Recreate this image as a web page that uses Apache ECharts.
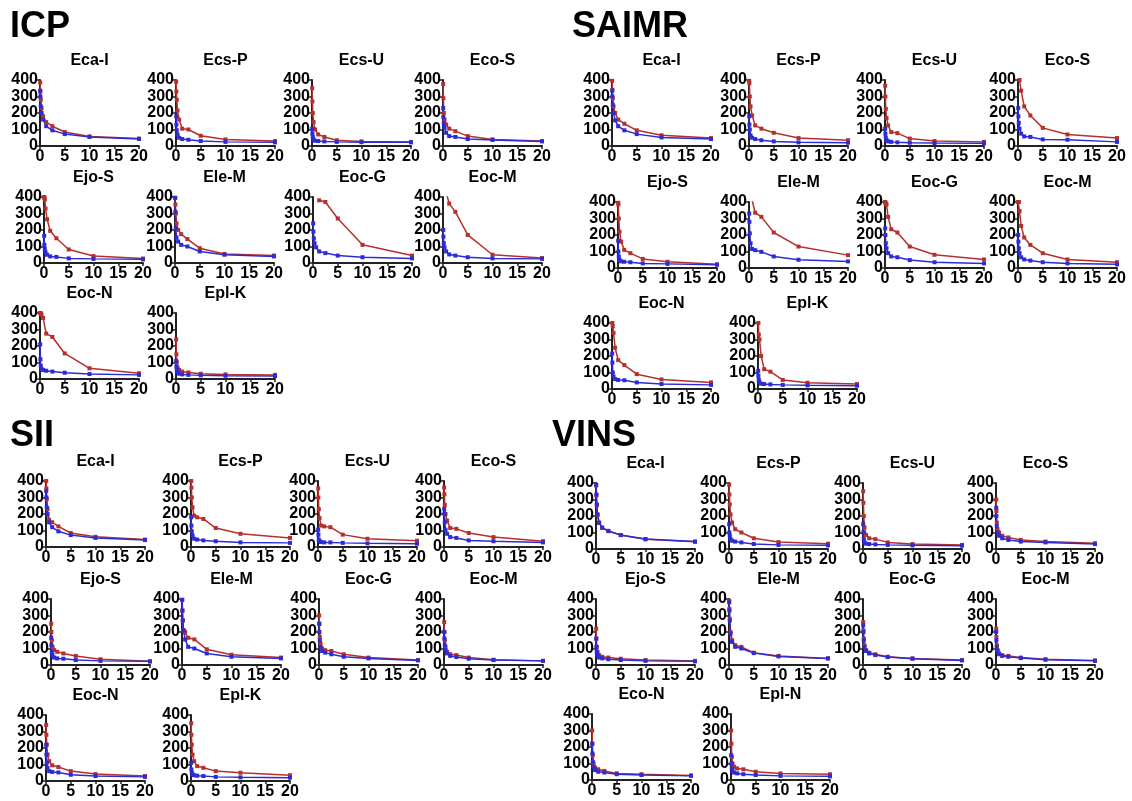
<!DOCTYPE html>
<html>
<head>
<meta charset="utf-8">
<script src="https://cdn.jsdelivr.net/npm/echarts@6/dist/echarts.min.js"></script>
<style>
html,body{margin:0;padding:0;background:#fff;}
#chart{width:1132px;height:801px;}
</style>
</head>
<body>
<div id="chart"></div>
<script>
// Concentration (x) values shared by all subplots
const X = [0.04, 0.08, 0.16, 0.31, 0.63, 1.25, 2.5, 5, 10, 20];
const xTicks = [0, 5, 10, 15, 20];
const yTicks = [0, 100, 200, 300, 400];

// ---------- ICP ----------
const icpNames = ['Eca-I','Ecs-P','Ecs-U','Eco-S','Ejo-S','Ele-M','Eoc-G','Eoc-M','Eoc-N','Epl-K'];
const icpRed = [
  [385, 330, 280, 230, 180, 145, 120, 85, 58, 45],
  [390, 330, 280, 215, 160, 105, 100, 62, 40, 30],
  [350, 270, 200, 145, 100, 70, 55, 35, 28, 25],
  [375, 290, 200, 160, 130, 105, 90, 60, 40, 30],
  [400, 395, 385, 330, 265, 195, 150, 82, 42, 27],
  [395, 355, 300, 240, 200, 175, 145, 90, 55, 45],
  [null, null, null, null, null, 380, 370, 270, 110, 45],
  [null, null, null, null, 430, 360, 310, 170, 50, 30],
  [400, 400, 395, 390, 370, 275, 255, 155, 65, 35],
  [240, 150, 100, 70, 55, 45, 40, 32, 28, 25]
];
const icpBlue = [
  [335, 300, 240, 200, 160, 120, 95, 72, 55, 43],
  [180, 130, 95, 70, 50, 42, 38, 30, 25, 22],
  [105, 75, 55, 40, 32, 30, 28, 25, 23, 22],
  [230, 175, 140, 110, 80, 60, 55, 42, 37, 28],
  [165, 110, 85, 65, 50, 40, 37, 28, 25, 22],
  [395, 310, 210, 155, 130, 110, 100, 70, 50, 40],
  [240, 190, 150, 120, 95, 70, 60, 45, 35, 28],
  [200, 160, 120, 95, 70, 52, 45, 35, 28, 25],
  [210, 120, 80, 60, 55, 50, 45, 38, 30, 25],
  [110, 75, 55, 40, 32, 28, 25, 22, 20, 18]
];

// ---------- SAIMR ----------
const saimrNames = ['Eca-I','Ecs-P','Ecs-U','Eco-S','Ejo-S','Ele-M','Eoc-G','Eoc-M','Eoc-N','Epl-K'];
const saimrRed = [
  [395, 340, 290, 240, 200, 160, 135, 95, 65, 48],
  [395, 380, 300, 240, 185, 125, 105, 80, 48, 35],
  [365, 300, 225, 170, 125, 85, 78, 45, 30, 25],
  [460, 440, 420, 400, 335, 240, 185, 110, 70, 48],
  [395, 385, 300, 220, 160, 110, 90, 55, 38, 22],
  [500, 480, 460, 440, 410, 335, 310, 215, 130, 78],
  [400, 395, 390, 385, 310, 235, 215, 130, 80, 52],
  [400, 400, 400, 345, 255, 185, 140, 90, 52, 35],
  [420, 400, 380, 340, 250, 175, 145, 90, 58, 40],
  [420, 400, 330, 300, 200, 120, 105, 55, 38, 30]
];
const saimrBlue = [
  [335, 300, 250, 200, 155, 120, 95, 72, 52, 42],
  [180, 130, 100, 65, 50, 42, 35, 28, 22, 20],
  [105, 75, 50, 35, 28, 25, 22, 20, 18, 17],
  [230, 180, 140, 105, 75, 58, 55, 40, 38, 25],
  [165, 100, 70, 50, 40, 38, 35, 28, 25, 20],
  [330, 280, 210, 150, 115, 108, 98, 70, 50, 40],
  [240, 200, 150, 120, 90, 70, 65, 48, 35, 28],
  [200, 160, 120, 90, 65, 52, 45, 35, 28, 22],
  [215, 160, 100, 75, 60, 55, 53, 40, 30, 25],
  [110, 80, 55, 40, 32, 30, 28, 25, 22, 20]
];

// ---------- SII ----------
const siiNames = ['Eca-I','Ecs-P','Ecs-U','Eco-S','Ejo-S','Ele-M','Eoc-G','Eoc-M','Eoc-N','Epl-K'];
const siiRed = [
  [400, 355, 290, 230, 165, 150, 125, 85, 62, 45],
  [400, 360, 300, 240, 190, 180, 170, 115, 80, 55],
  [355, 300, 230, 175, 130, 125, 120, 75, 50, 38],
  [360, 320, 255, 200, 160, 115, 110, 85, 60, 35],
  [250, 200, 150, 110, 90, 80, 70, 55, 35, 22],
  [395, 330, 270, 210, 200, 165, 155, 95, 62, 45],
  [300, 250, 170, 130, 100, 90, 85, 65, 45, 30],
  [260, 200, 150, 110, 80, 65, 60, 45, 32, 25],
  [340, 280, 220, 160, 120, 95, 85, 60, 42, 30],
  [350, 280, 220, 160, 120, 90, 80, 60, 50, 35]
];
const siiBlue = [
  [340, 300, 240, 200, 150, 120, 95, 72, 55, 42],
  [180, 130, 95, 70, 50, 45, 40, 35, 28, 25],
  [105, 75, 45, 35, 30, 28, 28, 25, 22, 20],
  [230, 200, 150, 105, 80, 60, 55, 40, 35, 28],
  [165, 120, 80, 60, 45, 40, 38, 30, 25, 22],
  [395, 330, 270, 210, 155, 110, 100, 70, 50, 40],
  [250, 200, 150, 110, 85, 75, 65, 50, 40, 28],
  [200, 160, 120, 90, 70, 55, 48, 38, 30, 25],
  [220, 160, 110, 80, 60, 55, 52, 38, 30, 25],
  [110, 70, 50, 40, 35, 32, 30, 25, 22, 20]
];

// ---------- VINS ----------
const vinsNames = ['Eca-I','Ecs-P','Ecs-U','Eco-S','Ejo-S','Ele-M','Eoc-G','Eoc-M','Eco-N','Epl-N'];
const vinsRed = [
  [385, 325, 265, 205, 158, 128, 108, 84, 59, 44],
  [390, 330, 270, 210, 160, 120, 100, 65, 42, 32],
  [350, 280, 200, 130, 85, 65, 60, 40, 30, 25],
  [300, 230, 160, 120, 100, 80, 70, 55, 45, 35],
  [220, 160, 110, 80, 60, 50, 45, 38, 30, 25],
  [390, 340, 280, 200, 150, 120, 110, 75, 55, 40],
  [260, 210, 160, 120, 90, 75, 65, 50, 40, 30],
  [220, 170, 120, 90, 70, 60, 55, 45, 35, 28],
  [300, 220, 150, 100, 75, 65, 55, 40, 35, 28],
  [300, 220, 140, 100, 80, 70, 65, 50, 40, 35]
];
const vinsBlue = [
  [390, 330, 270, 210, 160, 130, 110, 85, 60, 45],
  [150, 100, 80, 60, 50, 45, 40, 30, 25, 22],
  [150, 100, 60, 40, 32, 30, 28, 25, 22, 20],
  [250, 200, 140, 100, 80, 65, 55, 45, 40, 30],
  [160, 110, 80, 60, 45, 40, 35, 30, 25, 22],
  [380, 330, 270, 190, 140, 110, 100, 72, 52, 40],
  [240, 200, 150, 110, 85, 70, 60, 48, 38, 28],
  [200, 150, 110, 85, 65, 55, 50, 42, 32, 25],
  [220, 160, 110, 80, 60, 50, 45, 35, 30, 25],
  [150, 100, 70, 55, 45, 40, 35, 30, 25, 22]
];

// ---------- layout (plot-area left/top; width/height) ----------
const PW = 99, PH = 66;
const icpRects   = [[40,80],[176,80],[312,80],[443,80],[44,197],[175,197],[313,197],[443,197],[40,313],[176,313]];
const saimrRects = [[612,80],[749,80],[885,80],[1018,80],[618,202],[749,202],[885,202],[1018,202],[612,323],[758,323]];
const siiRects   = [[46,481],[191,481],[318,481],[444,481],[51,599],[182,599],[319,599],[444,599],[46,715],[191,715]];
const vinsRects  = [[596,483],[729,483],[863,483],[996,483],[596,599],[729,599],[863,599],[996,599],[592,714],[731,714]];

const panels = [
  {title:'ICP',   tx:10,  ty:27,  names:icpNames,   red:icpRed,   blue:icpBlue,   rects:icpRects},
  {title:'SAIMR', tx:572, ty:27,  names:saimrNames, red:saimrRed, blue:saimrBlue, rects:saimrRects},
  {title:'SII',   tx:10,  ty:436, names:siiNames,   red:siiRed,   blue:siiBlue,   rects:siiRects},
  {title:'VINS',  tx:552, ty:436, names:vinsNames,  red:vinsRed,  blue:vinsBlue,  rects:vinsRects}
];

const FONT = '"Liberation Sans", Arial, Helvetica, sans-serif';
const RED = '#b5302c', BLUE = '#2b2bd8';

const grid = [], xAxis = [], yAxis = [], series = [], graphic = [];
let k = 0;
panels.forEach(p => {
  graphic.push({type:'text', x:p.tx, y:p.ty, silent:true,
    style:{text:p.title, font:'bold 36px ' + FONT, fill:'#000', textAlign:'left', textVerticalAlign:'middle', verticalAlign:'middle'}});
  p.names.forEach((nm, i) => {
    const [l, t] = p.rects[i];
    grid.push({left:l, top:t, width:PW, height:PH, containLabel:false});
    graphic.push({type:'text', x:l + PW/2, y:t - 19, silent:true,
      style:{text:nm, font:'bold 16px ' + FONT, fill:'#000', textAlign:'center', textVerticalAlign:'middle', verticalAlign:'middle'}});
    xAxis.push({type:'value', gridIndex:k, min:xTicks[0], max:xTicks[xTicks.length-1], interval:5,
      axisLine:{show:true, onZero:false, lineStyle:{color:'#222', width:2}},
      axisTick:{show:true, length:3, lineStyle:{color:'#222', width:1.5}},
      axisLabel:{show:true, margin:3, color:'#000', fontWeight:'bold', fontSize:16, fontFamily:FONT},
      splitLine:{show:false}});
    yAxis.push({type:'value', gridIndex:k, min:yTicks[0], max:yTicks[yTicks.length-1], interval:100,
      axisLine:{show:true, onZero:false, lineStyle:{color:'#222', width:2}},
      axisTick:{show:true, length:3, lineStyle:{color:'#222', width:1.5}},
      axisLabel:{show:true, margin:2, color:'#000', fontWeight:'bold', fontSize:16, fontFamily:FONT},
      splitLine:{show:false}});
    series.push({type:'line', xAxisIndex:k, yAxisIndex:k, clip:true, animation:false,
      data:X.map((x, j) => [x, p.red[i][j]]), connectNulls:false,
      symbol:'rect', symbolSize:4, showAllSymbol:true,
      lineStyle:{color:RED, width:1.5}, itemStyle:{color:RED}});
    series.push({type:'line', xAxisIndex:k, yAxisIndex:k, clip:true, animation:false,
      data:X.map((x, j) => [x, p.blue[i][j]]),
      symbol:'rect', symbolSize:4, showAllSymbol:true,
      lineStyle:{color:BLUE, width:1.5}, itemStyle:{color:BLUE}});
    k++;
  });
});

const chart = echarts.init(document.getElementById('chart'), null, {renderer:'canvas'});
chart.setOption({backgroundColor:'#fff', animation:false, grid, xAxis, yAxis, series, graphic});
</script>
</body>
</html>
